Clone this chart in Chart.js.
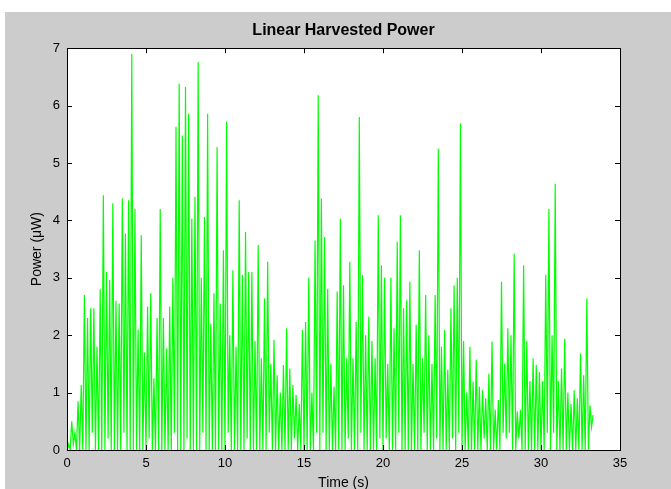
<!DOCTYPE html>
<html>
<head>
<meta charset="utf-8">
<script src="https://cdn.jsdelivr.net/npm/chart.js@4"></script>
<style>
  html, body { margin: 0; padding: 0; background: #ffffff; }
  #wrap { width: 671px; height: 489px; }
</style>
</head>
<body>
<div id="wrap"><canvas id="power-chart" width="671" height="489"></canvas></div>
<script>
const sampleStep = 0.1;
const power = [
    0, 0.1, 0, 0.5, 0.1, 0.3, 0, 0.85, 0, 1.13,
    0, 2.7, 0, 2.3, 0, 2.47, 0.3, 2.47, 0, 1.8,
    0, 2.8, 0, 4.44, 0, 3.1, 0.2, 2.96, 0, 4.3,
    0, 2.6, 0, 2.55, 0, 4.38, 0.3, 3.77, 0, 4.35,
    0, 6.9, 0, 4.2, 0, 2.1, 0, 3.74, 0, 1.7,
    0, 2.5, 0.2, 2.73, 0, 1.25, 0, 2.3, 0, 4.2,
    0, 2.3, 0, 1.77, 0, 2.5, 0, 3.0, 0.3, 5.63,
    0, 6.38, 0, 5.48, 0, 6.33, 0.2, 5.86, 0, 4.03,
    0, 4.41, 0, 6.76, 0, 3.0, 0.3, 4.06, 0, 5.86,
    0, 2.2, 0, 2.73, 0, 5.28, 0, 2.55, 0, 3.48,
    0, 5.72, 0.3, 2.0, 0, 3.13, 0, 1.8, 0, 4.35,
    0, 3.05, 0, 3.8, 0.2, 3.1, 0, 3.1, 0, 1.9,
    0, 3.57, 0, 1.6, 0, 2.64, 0, 3.28, 0.3, 1.5,
    0, 1.92, 0, 1.3, 0, 1.0, 0, 1.48, 0, 2.12,
    0, 1.42, 0, 1.13, 0.2, 0.96, 0, 0.8, 0, 2.09,
    0, 2.23, 0, 3.0, 0, 1.0, 0, 3.65, 0.3, 6.18,
    0, 4.38, 0.3, 3.71, 0, 2.81, 0, 1.5, 0, 1.1,
    0, 2.76, 0, 4.03, 0, 2.87, 0, 1.6, 0.2, 3.28,
    0, 1.6, 0, 2.23, 0, 5.8, 0.3, 3.05, 0, 2.0,
    0, 2.32, 0, 1.9, 0, 1.6, 0, 4.09, 0.2, 3.22,
    0, 3.0, 0.2, 1.5, 0, 3.0, 0, 2.12, 0, 3.63,
    0.3, 4.09, 0, 2.47, 0, 2.61, 0, 2.93, 0, 1.5,
    0, 2.18, 0, 3.48, 0, 1.6, 0.3, 2.7, 0, 2.0,
    0, 1.5, 0, 2.7, 0.2, 5.25, 0, 1.8, 0, 2.09,
    0, 1.4, 0, 2.47, 0.2, 2.87, 0, 3.0, 0.3, 5.69,
    0, 1.9, 0, 1.0, 0, 1.8, 0, 1.19, 0, 1.57,
    0, 1.1, 0, 1.04, 0.2, 0.9, 0, 1.33, 0, 1.89,
    0, 0.7, 0, 0.87, 0, 2.93, 0.3, 1.5, 0.2, 2.12,
    0.3, 2.0, 0, 3.42, 0, 0.67, 0.2, 0.7, 0, 3.22,
    0, 1.9, 0, 1.2, 0, 1.6, 0, 1.48, 0, 1.36,
    0, 1.2, 0, 3.05, 0.3, 4.2, 0, 2.0, 0.3, 4.64,
    0, 1.2, 0, 1.42, 0, 1.94, 0, 1.0, 0, 0.8,
    0, 1.04, 0, 0.9, 0, 1.68, 0, 1.3, 0, 2.64,
    0, 0.78, 0.4, 0.61
];
const xTicks = [0, 5, 10, 15, 20, 25, 30, 35];
const yTicks = [0, 1, 2, 3, 4, 5, 6, 7];

const points = power.map((p, i) => ({ x: i * sampleStep, y: p }));

// grey figure background + white axes box, matlab style
const figureBackground = {
    id: "figureBackground",
    beforeDraw(chart) {
        const { ctx, chartArea } = chart;
        ctx.save();
        ctx.fillStyle = "#ffffff";
        ctx.fillRect(0, 0, chart.width, chart.height);
        ctx.fillStyle = "#cccccc";
        ctx.fillRect(5, 12, chart.width - 5, chart.height - 12);
        ctx.fillStyle = "#ffffff";
        ctx.fillRect(chartArea.left, chartArea.top, chartArea.right - chartArea.left, chartArea.bottom - chartArea.top);
        ctx.restore();
    }
};

// box around the axes with inward tick marks on all four sides
const axesBox = {
    id: "axesBox",
    afterDraw(chart) {
        const { ctx, chartArea, scales } = chart;
        const { left, right, top, bottom } = chartArea;
        const len = 5;
        ctx.save();
        ctx.strokeStyle = "#000000";
        ctx.lineWidth = 1;
        ctx.beginPath();
        xTicks.forEach(v => {
            const px = Math.round(scales.x.getPixelForValue(v)) + 0.5;
            ctx.moveTo(px, bottom);
            ctx.lineTo(px, bottom - len);
            ctx.moveTo(px, top);
            ctx.lineTo(px, top + len);
        });
        yTicks.forEach(v => {
            const py = Math.round(scales.y.getPixelForValue(v)) + 0.5;
            ctx.moveTo(left, py);
            ctx.lineTo(left + len, py);
            ctx.moveTo(right, py);
            ctx.lineTo(right - len, py);
        });
        ctx.stroke();
        ctx.strokeRect(Math.round(left) + 0.5, Math.round(top) + 0.5, Math.round(right - left), Math.round(bottom - top));
        ctx.restore();
    }
};

const tickFont = { family: "'Liberation Sans', Arial, sans-serif", size: 13 };
const labelFont = { family: "'Liberation Sans', Arial, sans-serif", size: 14, lineHeight: 1 };

const config = {
    type: "line",
    data: {
        datasets: [{
            label: "Power",
            data: points,
            borderColor: "#00ff00",
            borderWidth: 1.2,
            pointRadius: 0,
            tension: 0,
            fill: false
        }]
    },
    options: {
        responsive: false,
        animation: false,
        layout: { padding: { top: 13, right: 51, bottom: 0, left: 0 } },
        plugins: {
            legend: { display: false },
            tooltip: { enabled: false },
            title: {
                display: true,
                fullSize: false,
                text: "Linear Harvested Power",
                color: "#000000",
                font: { family: "'Liberation Sans', Arial, sans-serif", size: 16, weight: "bold", lineHeight: 1.2 },
                padding: { top: 8, bottom: 8 }
            }
        },
        scales: {
            x: {
                type: "linear",
                min: 0,
                max: 35,
                afterBuildTicks: s => { s.ticks = xTicks.map(v => ({ value: v })); },
                afterFit: s => { s.height = 39; },
                grid: { display: false, drawTicks: false },
                border: { display: false },
                ticks: { color: "#000000", font: tickFont, padding: 6, maxRotation: 0 },
                title: { display: true, text: "Time (s)", color: "#000000", font: labelFont, padding: { top: 0, bottom: -1 } }
            },
            y: {
                type: "linear",
                min: 0,
                max: 7,
                afterBuildTicks: s => { s.ticks = yTicks.map(v => ({ value: v })); },
                afterFit: s => { s.width = 67; },
                grid: { display: false, drawTicks: false },
                border: { display: false },
                ticks: { color: "#000000", font: tickFont, padding: 7 },
                title: { display: true, text: "Power (\u03bcW)", color: "#000000", font: labelFont, padding: { top: 30, bottom: 0 } }
            }
        }
    },
    plugins: [figureBackground, axesBox]
};

const powerChart = new Chart(document.getElementById("power-chart"), config);
</script>
</body>
</html>
